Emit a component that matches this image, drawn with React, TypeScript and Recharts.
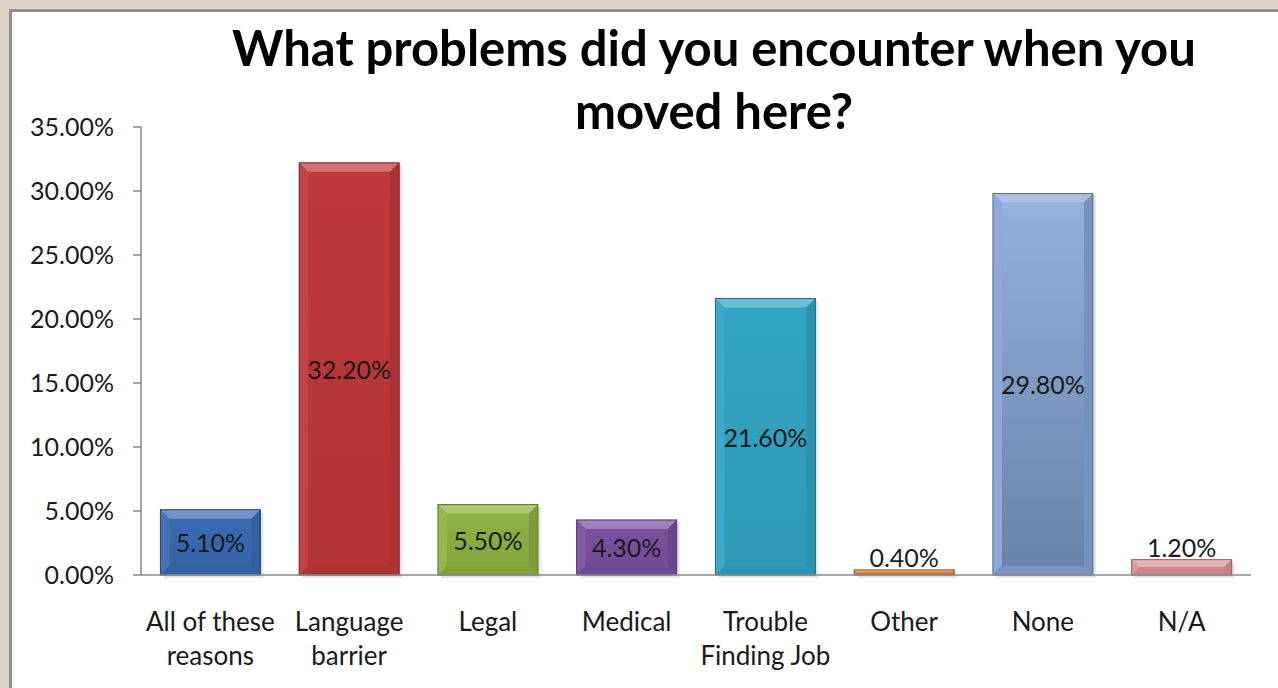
import { BarChart, Bar, XAxis, YAxis, LabelList } from 'recharts';

const categories = ['All of these reasons', 'Language barrier', 'Legal', 'Medical', 'Trouble Finding Job', 'Other', 'None', 'N/A'];
const categoryLines = [['All of these', 'reasons'], ['Language', 'barrier'], ['Legal'], ['Medical'], ['Trouble', 'Finding Job'], ['Other'], ['None'], ['N/A']];
const percents = [5.1, 32.2, 5.5, 4.3, 21.6, 0.4, 29.8, 1.2];
const barColors = ['#3a6cb3', '#c0393b', '#8cb441', '#7a52a0', '#32a6c5', '#e3812d', '#88a6d8', '#de9494'];
const yTicks = [0, 5, 10, 15, 20, 25, 30, 35];

const FONT = 'Lato, "Open Sans", sans-serif';

const data = categories.map((name, i) => ({ name, value: percents[i], color: barColors[i], idx: i }));

function mix(hex, target, amt) {
	const n = parseInt(hex.slice(1), 16);
	const r = (n >> 16) & 255;
	const g = (n >> 8) & 255;
	const b = n & 255;
	const t = target === 'white' ? 255 : 0;
	const f = (c) => Math.round(c + (t - c) * amt);
	return `rgb(${f(r)},${f(g)},${f(b)})`;
}

function BevelBar(props) {
	const { x, y, width, height, payload } = props;
	if (!height || height <= 0) return null;
	const c = payload.color;
	const b = Math.min(9, height / 2);
	const id = `grad${payload.idx}`;
	const isNone = payload.name === 'None';
	return (
		<g>
			<defs>
				<linearGradient id={id} x1='0' y1='0' x2='0' y2='1'>
					<stop offset='0%' stopColor={isNone ? mix(c, 'white', 0.12) : c} />
					<stop offset='100%' stopColor={isNone ? mix(c, 'black', 0.22) : mix(c, 'black', 0.08)} />
				</linearGradient>
			</defs>
			<rect x={x + 3} y={y + 3} width={width} height={height} fill='rgba(0,0,0,0.1)' />
			<rect x={x} y={y} width={width} height={height} fill={`url(#${id})`} />
			<polygon points={`${x},${y} ${x + width},${y} ${x + width - b},${y + b} ${x + b},${y + b}`} fill={mix(c, 'white', 0.28)} />
			<polygon points={`${x},${y} ${x + b},${y + b} ${x + b},${y + height - b} ${x},${y + height}`} fill={mix(c, 'white', 0.05)} />
			<polygon points={`${x + width},${y} ${x + width - b},${y + b} ${x + width - b},${y + height - b} ${x + width},${y + height}`} fill={mix(c, 'black', 0.12)} />
			<polygon points={`${x},${y + height} ${x + b},${y + height - b} ${x + width - b},${y + height - b} ${x + width},${y + height}`} fill={mix(c, 'black', 0.1)} />
			<rect x={x} y={y} width={width} height={height} fill='none' stroke={mix(c, 'black', 0.35)} strokeWidth={1} />
		</g>
	);
}

function ValueLabel(props) {
	const { x, y, width, height, value } = props;
	const outside = value < 2;
	const ty = outside ? y - 13 : y + height / 2;
	return (
		<text x={x + width / 2} y={ty} textAnchor='middle' dominantBaseline='central' fontFamily={FONT} fontSize={25} fill='#1a1a1a'>
			{value.toFixed(2)}%
		</text>
	);
}

function CategoryTick(props) {
	const { x, y, payload, index } = props;
	const lines = categoryLines[index] || [payload.value];
	return (
		<text x={x} y={y} textAnchor='middle' fontFamily={FONT} fontSize={26} fill='#1a1a1a'>
			{lines.map((l, i) => (
				<tspan key={i} x={x} dy={i === 0 ? 48 : 34}>
					{l}
				</tspan>
			))}
		</text>
	);
}

export default function App() {
	return (
		<div style={{ position: 'absolute', left: 0, top: 0, width: 1278, height: 688, background: '#ddd6c6', overflow: 'hidden' }}>
			<div style={{ position: 'absolute', left: 9, top: 9, width: 1300, height: 700, background: '#fff', borderLeft: '3px solid #8f8f8f', borderTop: '3px solid #8f8f8f' }} />
			<div style={{ position: 'absolute', left: 0, top: 0 }}>
				<BarChart width={1278} height={688} data={data} margin={{ top: 127, right: 27, bottom: 0, left: 0 }} barCategoryGap='14%'>
					<XAxis dataKey='name' axisLine={{ stroke: '#8a8a8a', strokeWidth: 1.5 }} tickLine={false} tick={<CategoryTick />} height={113} interval={0} />
					<YAxis
						width={141}
						domain={[0, 35]}
						ticks={yTicks}
						tickFormatter={(v) => `${v.toFixed(2)}%`}
						axisLine={{ stroke: '#8a8a8a', strokeWidth: 1.5 }}
						tickLine={{ stroke: '#8a8a8a', strokeWidth: 1.5 }}
						tickSize={8}
						tickMargin={19}
						tick={{ fontFamily: FONT, fontSize: 25, fill: '#1a1a1a' }}
					/>
					<Bar dataKey='value' isAnimationActive={false} shape={<BevelBar />}>
						<LabelList dataKey='value' content={<ValueLabel />} />
					</Bar>
				</BarChart>
			</div>
			<svg width={1278} height={688} style={{ position: 'absolute', left: 0, top: 0, pointerEvents: 'none' }}>
				<text x={714} y={66} textAnchor='middle' fontFamily={FONT} fontWeight='bold' fontSize={49} fill='#000'>
					What problems did you encounter when you
				</text>
				<text x={714} y={129} textAnchor='middle' fontFamily={FONT} fontWeight='bold' fontSize={49} fill='#000'>
					moved here?
				</text>
			</svg>
		</div>
	);
}
